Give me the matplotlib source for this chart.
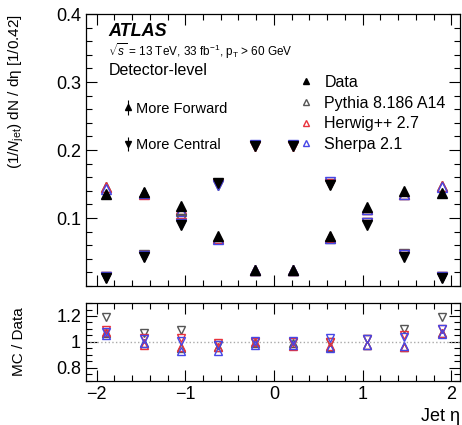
import numpy as np
import matplotlib.pyplot as plt
from matplotlib.lines import Line2D
from matplotlib.ticker import MultipleLocator

plt.rcParams['font.family'] = ['Liberation Sans', 'DejaVu Sans']
plt.rcParams['mathtext.fontset'] = 'custom'
plt.rcParams['mathtext.rm'] = 'Liberation Sans'
plt.rcParams['mathtext.it'] = 'Liberation Sans:italic'

# eta bin centres (bin width 0.42)
eta = [-1.89, -1.47, -1.05, -0.63, -0.21, 0.21, 0.63, 1.05, 1.47, 1.89]

# more forward jet (up triangles)
fwd_data = [0.135, 0.138, 0.118, 0.074, 0.024, 0.024, 0.074, 0.116, 0.140, 0.137]
fwd_pythia = [0.146, 0.137, 0.112, 0.071, 0.024, 0.024, 0.071, 0.114, 0.135, 0.147]
fwd_herwig = [0.146, 0.136, 0.113, 0.071, 0.024, 0.023, 0.072, 0.114, 0.135, 0.147]
fwd_sherpa = [0.143, 0.137, 0.110, 0.069, 0.024, 0.024, 0.070, 0.114, 0.136, 0.146]

# more central jet (down triangles)
cen_data = [0.012, 0.043, 0.090, 0.151, 0.206, 0.206, 0.149, 0.090, 0.043, 0.012]
cen_pythia = [0.014, 0.046, 0.098, 0.149, 0.206, 0.206, 0.150, 0.092, 0.047, 0.014]
cen_herwig = [0.013, 0.044, 0.093, 0.150, 0.206, 0.206, 0.150, 0.092, 0.045, 0.013]
cen_sherpa = [0.013, 0.044, 0.091, 0.149, 0.208, 0.208, 0.153, 0.092, 0.045, 0.013]

# MC / Data
r_fwd_pythia = [1.07, 0.99, 0.95, 0.96, 0.99, 0.99, 0.96, 0.98, 0.96, 1.07]
r_fwd_herwig = [1.08, 0.98, 0.96, 0.96, 1.00, 0.97, 0.97, 0.98, 0.96, 1.07]
r_fwd_sherpa = [1.05, 0.99, 0.93, 0.93, 0.98, 0.98, 0.95, 0.98, 0.97, 1.06]
r_cen_pythia = [1.19, 1.07, 1.09, 0.98, 1.00, 1.00, 1.00, 1.02, 1.10, 1.19]
r_cen_herwig = [1.09, 1.03, 1.03, 0.99, 1.00, 1.00, 1.00, 1.02, 1.05, 1.10]
r_cen_sherpa = [1.08, 1.02, 1.01, 0.98, 1.01, 1.01, 1.03, 1.02, 1.04, 1.10]

c_py = '#555555'
c_hw = '#e8323c'
c_sh = '#4646e6'

fig = plt.figure(figsize=(4.62, 4.25), dpi=100)
ax = fig.add_axes([0.186, 0.327, 0.81, 0.64])
rax = fig.add_axes([0.186, 0.104, 0.81, 0.183])

ms = 7
# MC first, data on top
for vals, col in [(fwd_pythia, c_py), (fwd_herwig, c_hw), (fwd_sherpa, c_sh)]:
    ax.plot(eta, vals, ls='none', marker='^', ms=ms, mfc='none', mec=col, mew=1.0)
for vals, col in [(cen_pythia, c_py), (cen_herwig, c_hw), (cen_sherpa, c_sh)]:
    ax.plot(eta, vals, ls='none', marker='v', ms=ms, mfc='none', mec=col, mew=1.0)
ax.plot(eta, fwd_data, ls='none', marker='^', ms=ms, color='k')
ax.plot(eta, cen_data, ls='none', marker='v', ms=ms, color='k')

ax.set_xlim(-2.12, 2.1)
ax.set_ylim(0, 0.4)
ax.set_yticks([0.1, 0.2, 0.3, 0.4])
ax.set_yticklabels(['0.1', '0.2', '0.3', '0.4'])
ax.yaxis.set_minor_locator(MultipleLocator(0.02))
ax.xaxis.set_major_locator(MultipleLocator(1))
ax.xaxis.set_minor_locator(MultipleLocator(0.2))
ax.set_xticklabels([])
ax.set_ylabel(r'(1/$N_{\mathrm{jet}}$) dN / dη [1/0.42]', fontsize=11, loc='top')

ax.text(0.06, 0.935, 'ATLAS', transform=ax.transAxes, fontsize=13,
        fontweight='bold', fontstyle='italic', va='center')
ax.text(0.06, 0.862, r'$\sqrt{s}$ = 13 TeV, 33 fb$^{-1}$, p$_{\mathrm{T}}$ > 60 GeV',
        transform=ax.transAxes, fontsize=8.5, va='center')
ax.text(0.06, 0.794, 'Detector-level', transform=ax.transAxes, fontsize=11.5,
        va='center')

h_mc = [
    Line2D([], [], ls='none', marker='^', ms=5, color='k'),
    Line2D([], [], ls='none', marker='^', ms=5, mfc='none', mec=c_py),
    Line2D([], [], ls='none', marker='^', ms=5, mfc='none', mec=c_hw),
    Line2D([], [], ls='none', marker='^', ms=5, mfc='none', mec=c_sh),
]
leg = ax.legend(h_mc, ['Data', 'Pythia 8.186 A14', 'Herwig++ 2.7', 'Sherpa 2.1'],
                loc='upper left', bbox_to_anchor=(0.55, 0.805), frameon=False,
                fontsize=11.5, handlelength=0.8, handletextpad=0.75,
                labelspacing=0.35, borderpad=0)
ax.add_artist(leg)

e1 = ax.errorbar([np.nan], [np.nan], yerr=[1], fmt='^', ms=5, color='k', elinewidth=0.8)
e2 = ax.errorbar([np.nan], [np.nan], yerr=[1], fmt='v', ms=5, color='k', elinewidth=0.8)
ax.legend([e1, e2], ['More Forward', 'More Central'], loc='upper left',
          bbox_to_anchor=(0.082, 0.705), frameon=False, fontsize=10.5,
          handlelength=0.6, handletextpad=0.25, labelspacing=1.55, borderpad=0)

# ratio panel
rms = 6
rax.axhline(1, color='#aaaaaa', ls=':', lw=1)
for vals, col in [(r_fwd_pythia, c_py), (r_fwd_herwig, c_hw), (r_fwd_sherpa, c_sh)]:
    rax.plot(eta, vals, ls='none', marker='^', ms=rms, mfc='none', mec=col, mew=1.0)
for vals, col in [(r_cen_pythia, c_py), (r_cen_herwig, c_hw), (r_cen_sherpa, c_sh)]:
    rax.plot(eta, vals, ls='none', marker='v', ms=rms, mfc='none', mec=col, mew=1.0)

rax.set_xlim(-2.12, 2.1)
rax.set_ylim(0.7, 1.3)
rax.set_yticks([0.8, 1.0, 1.2])
rax.set_yticklabels(['0.8', '1', '1.2'])
rax.yaxis.set_minor_locator(MultipleLocator(0.05))
rax.xaxis.set_major_locator(MultipleLocator(1))
rax.xaxis.set_minor_locator(MultipleLocator(0.2))
rax.set_ylabel('MC / Data', fontsize=11)
rax.set_xlabel('Jet η', fontsize=13, loc='right')

for a in (ax, rax):
    a.tick_params(which='both', direction='in', top=True, right=True, labelsize=13)
    a.tick_params(which='major', length=8, width=0.8)
    a.tick_params(which='minor', length=4, width=0.8)
    for s in a.spines.values():
        s.set_linewidth(0.9)

ax.yaxis.set_label_coords(-0.16, 1.0)
rax.yaxis.set_label_coords(-0.16, 0.5)

fig.savefig('out.png', dpi=100)
